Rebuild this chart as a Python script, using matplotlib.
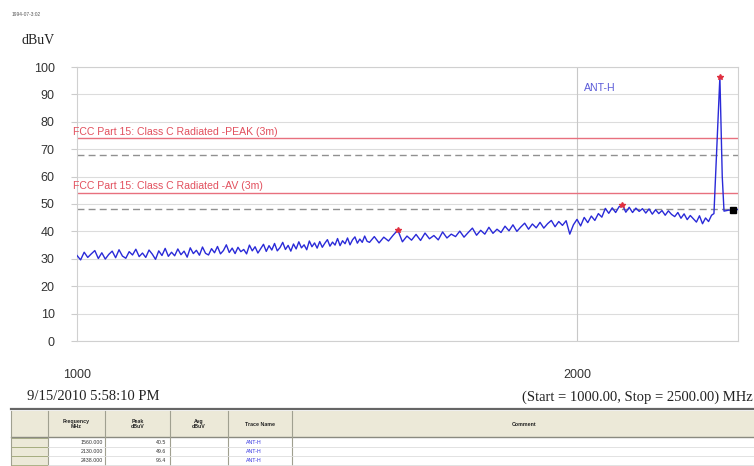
import matplotlib
matplotlib.use('Agg')
import matplotlib.pyplot as plt
from matplotlib.patches import Rectangle

# -------------------------------------------------
# data (dBuV vs MHz, horizontal antenna)
# 5 MHz points up to 1495 MHz, 10 MHz points after that, then the spike
# -------------------------------------------------
freq_mhz = [
    1000, 1005, 1010, 1015, 1020, 1025, 1030, 1035, 1040, 1045,
    1050, 1055, 1060, 1065, 1070, 1075, 1080, 1085, 1090, 1095,
    1100, 1105, 1110, 1115, 1120, 1125, 1130, 1135, 1140, 1145,
    1150, 1155, 1160, 1165, 1170, 1175, 1180, 1185, 1190, 1195,
    1200, 1205, 1210, 1215, 1220, 1225, 1230, 1235, 1240, 1245,
    1250, 1255, 1260, 1265, 1270, 1275, 1280, 1285, 1290, 1295,
    1300, 1305, 1310, 1315, 1320, 1325, 1330, 1335, 1340, 1345,
    1350, 1355, 1360, 1365, 1370, 1375, 1380, 1385, 1390, 1395,
    1400, 1405, 1410, 1415, 1420, 1425, 1430, 1435, 1440, 1445,
    1450, 1455, 1460, 1465, 1470, 1475, 1480, 1485, 1490, 1495,
    1500, 1510, 1520, 1530, 1540, 1550, 1560, 1570, 1580, 1590,
    1600, 1610, 1620, 1630, 1640, 1650, 1660, 1670, 1680, 1690,
    1700, 1710, 1720, 1730, 1740, 1750, 1760, 1770, 1780, 1790,
    1800, 1810, 1820, 1830, 1840, 1850, 1860, 1870, 1880, 1890,
    1900, 1910, 1920, 1930, 1940, 1950, 1960, 1970, 1980, 1990,
    2000, 2010, 2020, 2030, 2040, 2050, 2060, 2070, 2080, 2090,
    2100, 2110, 2120, 2130, 2140, 2150, 2160, 2170, 2180, 2190,
    2200, 2210, 2220, 2230, 2240, 2250, 2260, 2270, 2280, 2290,
    2300, 2310, 2320, 2330, 2340, 2350, 2360, 2370, 2380, 2390,
    2400, 2410, 2418, 2438, 2446, 2452, 2470, 2483, 2498,
]
level_dbuv = [
    31.2, 29.6, 32.4, 30.5, 31.8, 33.0, 30.1, 32.2, 29.9, 31.6,
    32.8, 30.4, 33.3, 31.0, 30.2, 32.6, 31.4, 33.5, 30.8, 32.1,
    30.5, 33.2, 31.7, 29.8, 32.9, 31.2, 33.8, 30.9, 32.4, 31.1,
    33.6, 31.5, 32.8, 30.6, 34.0, 31.9, 33.1, 31.3, 34.3, 32.0,
    31.4, 33.7, 32.2, 34.5, 31.8, 33.0, 35.1, 32.3, 33.9, 31.9,
    34.2, 32.6, 33.4, 31.8, 35.0, 32.9, 34.4, 32.1, 33.7, 35.3,
    32.7, 34.8, 33.2, 35.6, 32.9, 34.1, 36.0, 33.4, 34.9, 32.8,
    35.4, 33.6, 36.2, 34.0, 35.1, 33.3, 36.5, 34.4, 35.8, 33.9,
    36.3, 34.2, 35.7, 37.0, 34.6, 36.1, 35.0, 37.4, 34.8, 36.6,
    35.5, 37.6, 35.1, 36.9, 38.0, 35.7, 37.2, 36.0, 38.3, 36.4,
    36.0, 38.1, 35.8, 37.9, 36.5, 38.6, 40.5, 36.2, 38.3, 36.8,
    38.9, 36.7, 39.4, 37.3, 38.5, 36.9, 39.8, 37.6, 39.0, 38.1,
    40.1, 37.9, 39.6, 41.2, 38.6, 40.4, 39.0, 41.5, 39.3, 40.8,
    39.6, 41.9, 40.2, 42.4, 40.0, 41.6, 43.0, 40.8, 42.7, 41.3,
    43.3, 41.2, 42.8, 44.0, 41.7, 43.6, 42.2, 43.9, 39.0, 42.4,
    44.4, 42.0, 45.1, 43.2, 45.6, 44.0, 46.5, 45.2, 48.4, 46.6,
    48.6, 46.9, 49.0, 49.6, 47.0, 48.8, 46.9, 48.5, 47.3, 48.3,
    46.7, 48.2, 46.3, 47.9, 46.5, 47.6, 45.9, 47.5, 46.2, 45.4,
    46.9, 44.8, 46.4, 44.3, 45.8, 44.6, 43.4, 45.7, 42.8, 44.9,
    43.6, 45.9, 46.5, 96.4, 60.0, 47.4, 47.8, 47.5, 48.0,
]

# limit lines (dBuV)
limit_peak = 74
limit_avg = 54
margin_peak = 68
margin_avg = 48

# marker table
mark_freq = [1560.000, 2130.000, 2438.000]
mark_peak = [40.5, 49.6, 96.4]
mark_trace = ['ANT-H', 'ANT-H', 'ANT-H']
end_freq = 2483
end_level = 47.8

W, H = 754, 466
fig = plt.figure(figsize=(W / 100, H / 100), dpi=100)
fig.patch.set_facecolor('white')

# -------------------------------------------------
# main spectrum axes
# -------------------------------------------------
ax = fig.add_axes([77 / W, 1 - 341 / H, (738 - 77) / W, (341 - 67) / H])
ax.set_xscale('log')
ax.set_xlim(1000, 2500)
ax.set_ylim(0, 100)

for v in range(0, 101, 10):
    ax.axhline(v, color='#dcdcdc', lw=0.8, zorder=0)
ax.axvline(2000, color='#c8c8c8', lw=0.8, zorder=0)

ax.plot(freq_mhz, level_dbuv, color='#2a2ad8', lw=1.0, zorder=3)
ax.plot(mark_freq, mark_peak, ls='none', marker='*', ms=4, color='#e03040', zorder=4)
ax.plot([end_freq], [end_level], ls='none', marker='s', ms=5, color='black', zorder=4)

ax.axhline(limit_peak, color='#e8707e', lw=1.0, zorder=2)
ax.axhline(limit_avg, color='#e8707e', lw=1.0, zorder=2)
ax.axhline(margin_peak, color='#909090', lw=1.0, ls=(0, (5, 3)), zorder=2)
ax.axhline(margin_avg, color='#909090', lw=1.0, ls=(0, (5, 3)), zorder=2)

ax.text(994, limit_peak + 0.6, 'FCC Part 15: Class C Radiated -PEAK (3m)',
        color='#e2505e', fontsize=7.6, family='Liberation Sans', va='bottom', ha='left')
ax.text(994, limit_avg + 0.6, 'FCC Part 15: Class C Radiated -AV (3m)',
        color='#e2505e', fontsize=7.6, family='Liberation Sans', va='bottom', ha='left')
ax.text(2020, 92.5, 'ANT-H', color='#5a5ad8', fontsize=7.6,
        family='Liberation Sans', va='center', ha='left')

ax.set_yticks(range(0, 101, 10))
ax.set_xticks([1000, 2000])
ax.set_xticklabels(['1000', '2000'])
ax.minorticks_off()
ax.tick_params(axis='y', length=4, color='#cccccc', pad=12, labelsize=9, labelcolor='#333333')
ax.tick_params(axis='x', length=0, pad=20, labelsize=9, labelcolor='#333333')
for lbl in ax.get_xticklabels() + ax.get_yticklabels():
    lbl.set_family('Liberation Sans')
for s in ax.spines.values():
    s.set_color('#d0d0d0')
    s.set_linewidth(0.8)

# -------------------------------------------------
# header / footer texts
# -------------------------------------------------
fig.text(12 / W, 1 - 15 / H, '1994-07-3:02', fontsize=3.5, color='#555555',
         family='Liberation Sans', va='center')
fig.text(22 / W, 1 - 41 / H, 'dBuV', fontsize=10, family='Liberation Serif',
         color='#222222', va='center')
fig.text(27 / W, 1 - 397 / H, '9/15/2010 5:58:10 PM', fontsize=10.5,
         family='Liberation Serif', color='#222222', va='center')
fig.text(753 / W, 1 - 397 / H, '(Start = 1000.00, Stop = 2500.00) MHz', fontsize=10.5,
         family='Liberation Serif', color='#222222', va='center', ha='right')

# -------------------------------------------------
# marker table at the bottom
# -------------------------------------------------
tb = fig.add_axes([0, 0, 1, 1 - 404 / H])
tb.set_xlim(0, W)
tb.set_ylim(H, 404)
tb.axis('off')

tb.plot([11, W], [408.5, 408.5], color='#666666', lw=1.6)
tb.add_patch(Rectangle((11, 411), W - 11, 26, facecolor='#ece9d8', edgecolor='none'))
tb.plot([11, W], [437, 437], color='#8a8a80', lw=1.0)
col_edges = [11, 48, 105, 170, 228, 292]
for x in col_edges:
    tb.plot([x, x], [411, H], color='#a0a090', lw=0.8)

headers = ['Frequency\nMHz', 'Peak\ndBuV', 'Avg\ndBuV', 'Trace Name']
for i, h in enumerate(headers):
    xc = (col_edges[i + 1] + col_edges[i + 2]) / 2
    tb.text(xc, 424, h, fontsize=3.8, fontweight='bold', ha='center', va='center',
            family='Liberation Sans', color='#222222', linespacing=1.0)
tb.text(512, 424, 'Comment', fontsize=3.8, fontweight='bold', ha='left', va='center',
        family='Liberation Sans', color='#222222')

row_top = [438, 447, 456]
for r, y in enumerate(row_top):
    tb.add_patch(Rectangle((11, y), 37, 9, facecolor='#ece9d8', edgecolor='#a0a878', lw=0.6))
    tb.plot([48, W], [y + 9, y + 9], color='#dddddd', lw=0.6)
    tb.text(103, y + 4.5, f'{mark_freq[r]:.3f}', fontsize=3.8, ha='right', va='center',
            family='Liberation Sans', color='#333333')
    tb.text(166, y + 4.5, f'{mark_peak[r]:.1f}', fontsize=3.8, ha='right', va='center',
            family='Liberation Sans', color='#333333')
    tb.text(246, y + 4.5, mark_trace[r], fontsize=3.8, ha='left', va='center',
            family='Liberation Sans', color='#3030e0')

fig.savefig('out.png', dpi=100)
